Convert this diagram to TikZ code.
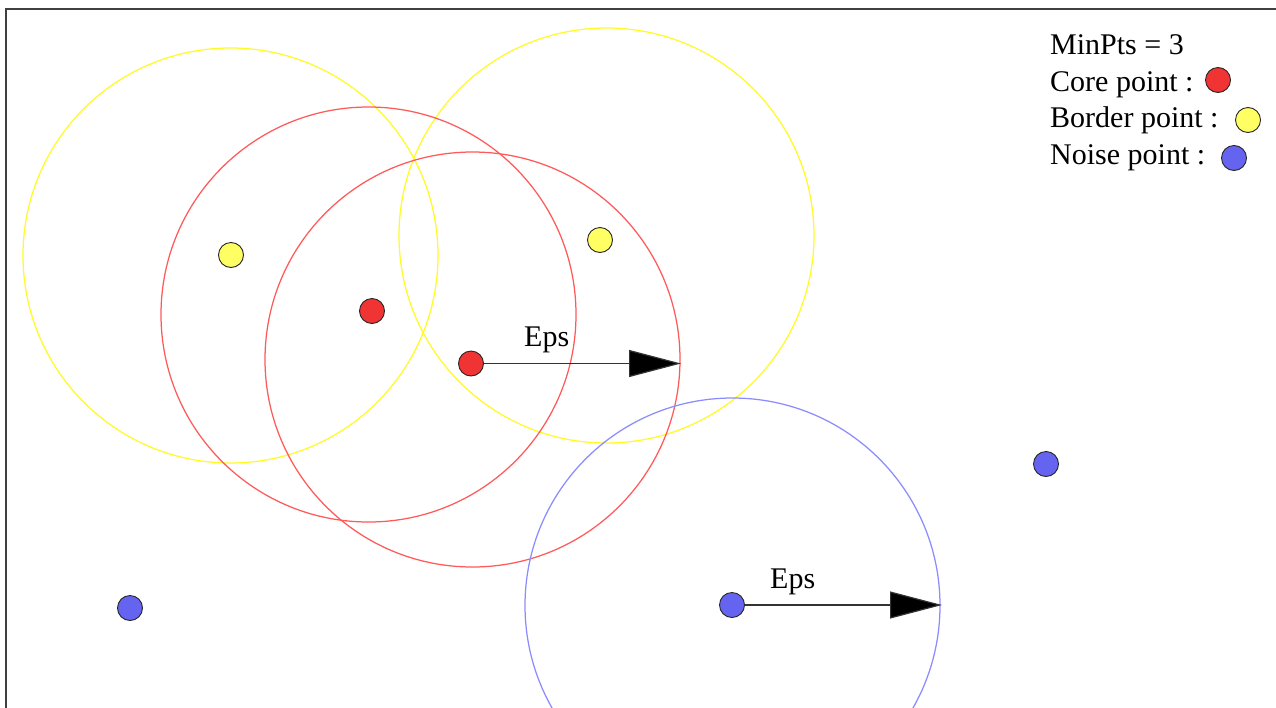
\documentclass[tikz,border=0pt]{standalone}
\usepackage{fontspec}
\setmainfont{Liberation Serif}
\usetikzlibrary{arrows.meta}
\definecolor{corefill}{RGB}{240,52,52}
\definecolor{borderfill}{RGB}{255,255,100}
\definecolor{noisefill}{RGB}{100,100,240}
\definecolor{coreline}{RGB}{255,90,90}
\definecolor{borderline}{RGB}{255,250,40}
\definecolor{noiseline}{RGB}{140,140,255}
\tikzset{
  pt/.style={circle, draw=black!85, line width=0.9pt, inner sep=0pt, minimum size=25pt},
  corept/.style={pt, fill=corefill},
  borderpt/.style={pt, fill=borderfill},
  noisept/.style={pt, fill=noisefill},
  ring/.style={line width=1.25pt},
  lbl/.style={font=\fontsize{30}{34}\selectfont, inner sep=0pt, anchor=base west},
  epsarrow/.style={draw=black!80, line width=1.2pt, -{Triangle[length=52pt,width=27pt,fill=black]}}
}
\begin{document}
\begin{tikzpicture}[x=1pt,y=-1pt]
\clip (0,0) rectangle (1276,707);
\fill[white] (0,0) rectangle (1276,707);
% frame
\draw[line width=2.2pt, black!75] (6,710) -- (6,9) -- (1280,9);
% eps circles
\draw[ring, borderline] (230.5,255.5) circle[radius=207.5pt];
\draw[ring, borderline] (606.5,235.5) circle[radius=207.5pt];
\draw[ring, coreline] (368.5,314.5) circle[radius=207.5pt];
\draw[ring, coreline] (472.5,359.5) circle[radius=207.5pt];
\draw[ring, noiseline] (732.5,605.5) circle[radius=207.5pt];
% points
\node[borderpt] (b1) at (231,255) {};
\node[borderpt] (b2) at (600,240) {};
\node[corept] (c1) at (372,311) {};
\node[corept] (c2) at (471,363.5) {};
\node[noisept] (n1) at (732,605) {};
\node[noisept] (n2) at (130,608) {};
\node[noisept] (n3) at (1046,464) {};
% arrows
\coordinate (e1) at (681,363.5);
\coordinate (e2) at (942,605);
\draw[epsarrow] (c2) -- (e1);
\draw[epsarrow] (n1) -- (e2);
\node[lbl] (eps1) at (524,346) {Eps};
\node[lbl] (eps2) at (770,588) {Eps};
% legend
\node[lbl] (l1) at (1050,54) {MinPts = 3};
\node[lbl] (l2) at (1050,91) {Core point :};
\node[lbl] (l3) at (1050,127) {Border point :};
\node[lbl] (l4) at (1050,164) {Noise point :};
\node[corept] (lc) at (1218,80) {};
\node[borderpt] (lb) at (1248,120) {};
\node[noisept] (ln) at (1234,158) {};
\end{tikzpicture}
\end{document}
